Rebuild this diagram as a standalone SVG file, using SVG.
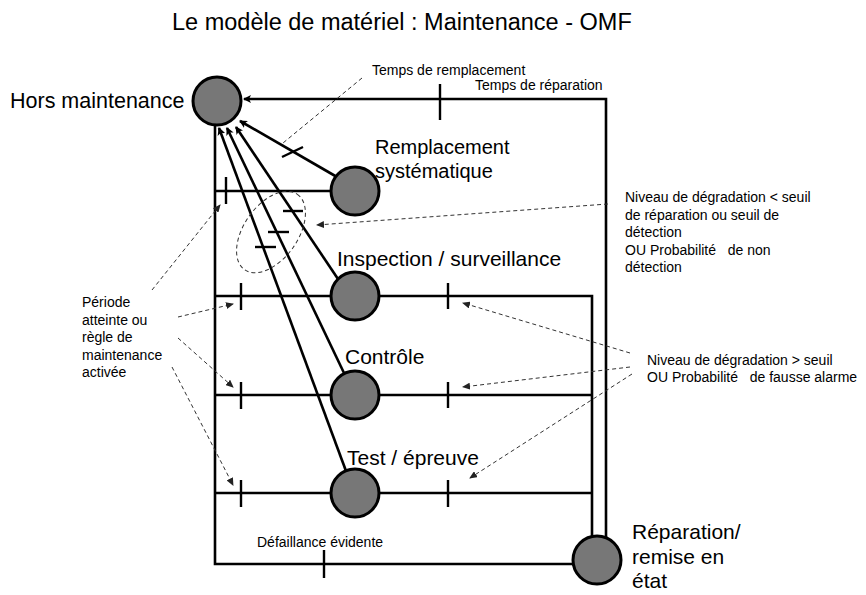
<svg xmlns="http://www.w3.org/2000/svg" width="866" height="595" viewBox="0 0 866 595">
<style>
text{font-family:"Liberation Sans",Arial,sans-serif;fill:#000;white-space:pre}
.t{font-size:21px}
.s{font-size:14px}
.ln{stroke:#000;stroke-width:2.6;fill:none}
.tk{stroke:#000;stroke-width:2.4;fill:none}
.d{stroke:#333;stroke-width:1;stroke-dasharray:4 3;fill:none}
.n{fill:#777;stroke:#000;stroke-width:3}
</style>
<defs>
<marker id="a" markerWidth="8" markerHeight="8" refX="7" refY="4" orient="auto" markerUnits="userSpaceOnUse"><path d="M0,0 L8,4 L0,8 L2,4 z" fill="#000"/></marker>
<marker id="ad" markerWidth="8" markerHeight="7" refX="7" refY="3.5" orient="auto" markerUnits="userSpaceOnUse"><path d="M0,0 L8,3.5 L0,7 z" fill="#222"/></marker>
</defs>
<rect width="866" height="595" fill="#fff"/>
<text x="172" y="30" style="font-size:23.5px">Le modèle de matériel : Maintenance - OMF</text>
<g id="connectors">
<polyline class="ln" points="606,538 606,99 244,99" marker-end="url(#a)"/>
<line class="tk" x1="440" y1="84" x2="440" y2="120"/>
<polyline class="ln" points="215,124 215,564 574,564"/>
<line class="tk" x1="324" y1="550" x2="324" y2="578"/>
<line class="ln" x1="215" y1="191" x2="331" y2="191"/>
<line class="tk" x1="226" y1="177" x2="226" y2="204"/>
<line class="ln" x1="337" y1="177" x2="240" y2="121" marker-end="url(#a)"/>
<line class="tk" x1="282" y1="157" x2="303" y2="147"/>
<polyline class="ln" points="215,296 592,296 592,537"/>
<line class="ln" x1="215" y1="395" x2="592" y2="395"/>
<line class="ln" x1="215" y1="493" x2="592" y2="493"/>
<line class="tk" x1="241" y1="283" x2="241" y2="310"/>
<line class="tk" x1="448" y1="283" x2="448" y2="309"/>
<line class="tk" x1="241" y1="382" x2="241" y2="409"/>
<line class="tk" x1="448" y1="382" x2="448" y2="408"/>
<line class="tk" x1="241" y1="480" x2="241" y2="507"/>
<line class="tk" x1="448" y1="480" x2="448" y2="507"/>
<line class="ln" x1="338" y1="279" x2="236" y2="127" marker-end="url(#a)"/>
<line class="ln" x1="344" y1="373" x2="227" y2="128" marker-end="url(#a)"/>
<line class="ln" x1="346" y1="471" x2="219" y2="128" marker-end="url(#a)"/>
<line class="tk" x1="283" y1="211" x2="303" y2="211"/>
<line class="tk" x1="268" y1="232" x2="289" y2="232"/>
<line class="tk" x1="255" y1="247" x2="276" y2="247"/>
<ellipse class="d" cx="271" cy="232" rx="46" ry="27" transform="rotate(-55 271 232)"/>
<line class="d" x1="362" y1="78" x2="283" y2="143"/>
<line class="d" x1="608" y1="204" x2="317" y2="225" marker-end="url(#ad)"/>
<line class="d" x1="152" y1="290" x2="220" y2="205" marker-end="url(#ad)"/>
<line class="d" x1="178" y1="317" x2="233" y2="304" marker-end="url(#ad)"/>
<line class="d" x1="178" y1="338" x2="233" y2="387" marker-end="url(#ad)"/>
<line class="d" x1="172" y1="367" x2="233" y2="485" marker-end="url(#ad)"/>
<line class="d" x1="630" y1="353" x2="463" y2="303" marker-end="url(#ad)"/>
<line class="d" x1="630" y1="367" x2="463" y2="387" marker-end="url(#ad)"/>
<line class="d" x1="632" y1="374" x2="470" y2="478" marker-end="url(#ad)"/>
</g>
<g id="hors"><circle class="n" cx="217" cy="101" r="24"/><text x="10" y="108" style="font-size:21.5px">Hors maintenance</text></g>
<g id="remplacement"><circle class="n" cx="355" cy="191" r="24"/><text x="375" y="154" style="font-size:20px">Remplacement</text><text x="375" y="178" style="font-size:20px">systématique</text></g>
<g id="inspection"><circle class="n" cx="355" cy="296" r="24"/><text class="t" x="337" y="266">Inspection / surveillance</text></g>
<g id="controle"><circle class="n" cx="355" cy="395" r="24"/><text class="t" x="345" y="364">Contrôle</text></g>
<g id="test"><circle class="n" cx="355" cy="493" r="24"/><text class="t" x="347" y="465">Test / épreuve</text></g>
<g id="reparation"><circle class="n" cx="597" cy="560" r="24"/><text class="t" x="632" y="539">Réparation/</text><text class="t" x="632" y="564">remise en</text><text class="t" x="632" y="588">état</text></g>
<g id="labels">
<text class="s" x="372" y="75">Temps de remplacement</text>
<text class="s" x="475" y="90">Temps de réparation</text>
<text class="s" x="257" y="547">Défaillance évidente</text>
<text class="s" x="625" y="202">Niveau de dégradation &lt; seuil</text>
<text class="s" x="625" y="219.5">de réparation ou seuil de</text>
<text class="s" x="625" y="237">détection</text>
<text class="s" x="625" y="254.5">OU Probabilité   de non</text>
<text class="s" x="625" y="272">détection</text>
<text class="s" x="82" y="307">Période</text>
<text class="s" x="82" y="324.5">atteinte ou</text>
<text class="s" x="82" y="342">règle de</text>
<text class="s" x="82" y="359.5">maintenance</text>
<text class="s" x="82" y="377">activée</text>
<text class="s" x="647" y="365">Niveau de dégradation &gt; seuil</text>
<text class="s" x="647" y="382">OU Probabilité   de fausse alarme</text>
</g>
</svg>
